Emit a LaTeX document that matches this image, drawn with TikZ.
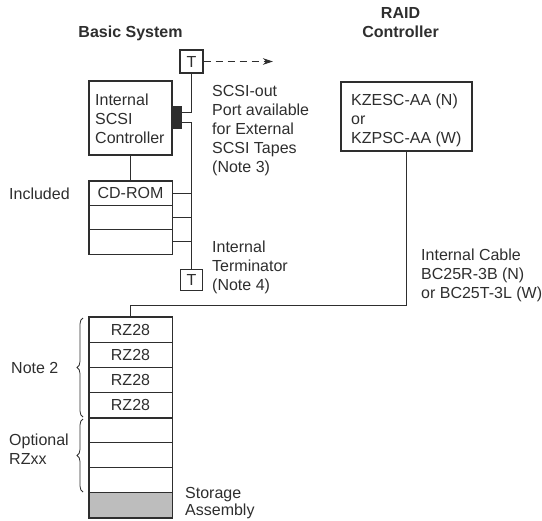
\documentclass[tikz,border=0pt]{standalone}
\usepackage{fontspec}
\setmainfont{Liberation Sans}
\usetikzlibrary{arrows.meta,decorations.pathreplacing,fit}
\definecolor{ink}{HTML}{2E2E2E}
\definecolor{shade}{HTML}{BDBDBD}
\begin{document}
\begin{tikzpicture}[x=1bp,y=-1bp,
  every node/.style={font=\fontsize{16bp}{19bp}\selectfont, text=ink},
  wire/.style={draw=ink, line width=0.9bp},
  boxframe/.style={draw=ink, line width=1.4bp, inner sep=0pt},
  tbox/.style={draw=ink, line width=1.3bp, minimum width=22bp, minimum height=21bp, inner sep=0pt},
  slot/.style={draw=ink, line width=0.9bp, minimum width=83bp, minimum height=25bp, inner sep=0pt},
  txt/.style={align=left, anchor=north west, inner sep=0pt},
  ttl/.style={font=\bfseries\fontsize{16bp}{19bp}\selectfont, align=center, inner sep=0pt},
  bracket/.style={draw=ink, line width=0.8bp, decorate, decoration={brace, amplitude=6bp}}
]
\useasboundingbox (0,0) rectangle (542,521);

% titles
\node[ttl] (sysTitle) at (130.5,33) {Basic System};
\node[ttl, anchor=north] (raidTitle) at (400.5,7) {RAID\\Controller};

% terminators
\node[tbox, minimum width=23bp, minimum height=23bp] (tTop) at (191.5,61.5) {T};
\node[tbox] (tBot) at (191.5,280) {T};
\coordinate (extEnd) at (273,61.5);
\draw[wire, dash pattern=on 7bp off 5bp, -{Stealth[length=10bp,width=6.5bp]}] (tTop.east) -- (extEnd);

% internal SCSI controller
\node[boxframe, minimum width=83bp, minimum height=74bp] (ctrl) at (130.5,118) {};
\node[txt] (ctrlTxt) at (95,94) {Internal\\SCSI\\Controller};
\node[fill=ink, minimum width=10bp, minimum height=23bp, inner sep=0pt] (conn) at (177,117.5) {};

% CD-ROM stack
\node[slot, minimum height=24.33bp] (cd1) at (130.5,193.17) {CD-ROM};
\node[slot, minimum height=24.33bp] (cd2) at (130.5,217.5) {};
\node[slot, minimum height=24.33bp] (cd3) at (130.5,241.83) {};
\node[boxframe, fit=(cd1)(cd3)] (cdFrame) {};
\draw[wire] (ctrl.south) -- (cdFrame.north);

% SCSI bus
\coordinate (portA) at (182,112);
\coordinate (portB) at (182,122);
\draw[wire] (tTop.south) |- (portA);
\draw[wire] (portB) -| (tBot.north);
\draw[wire] (cd1.east) -- (cd1.east -| tBot.north);
\draw[wire] (cd2.east) -- (cd2.east -| tBot.north);
\draw[wire] (cd3.east) -- (cd3.east -| tBot.north);

% RAID controller
\node[boxframe, minimum width=131bp, minimum height=69bp] (raid) at (406.5,116.5) {};
\node[txt] (raidTxt) at (351,94) {KZESC-AA (N)\\or\\KZPSC-AA (W)};

% storage assembly
\node[slot] (rz1) at (130.5,330) {RZ28};
\node[slot] (rz2) at (130.5,355) {RZ28};
\node[slot] (rz3) at (130.5,380) {RZ28};
\node[slot] (rz4) at (130.5,405) {RZ28};
\node[slot] (op1) at (130.5,430) {};
\node[slot] (op2) at (130.5,455) {};
\node[slot] (op3) at (130.5,480) {};
\node[slot, fill=shade] (sa) at (130.5,505) {};
\node[boxframe, fit=(rz1)(sa)] (stFrame) {};
\draw[draw=ink, line width=2.6bp] (rz4.south west) -- (rz4.south east);

% internal cable
\coordinate (cableBend) at (130.5,305);
\draw[wire] (raid.south) |- (cableBend) -- (stFrame.north);

% braces
\coordinate (n2a) at (83,417);
\coordinate (n2b) at (83,318);
\coordinate (opa) at (83,492);
\coordinate (opb) at (83,419);
\draw[bracket] (n2a) -- (n2b);
\draw[bracket] (opa) -- (opb);

% labels
\node[anchor=west, inner sep=0pt] (incl) at (9,194) {Included};
\node[txt] (scsiOut) at (212,85.5) {SCSI-out\\Port available\\for External\\SCSI Tapes\\(Note 3)};
\node[txt] (term) at (212,241) {Internal\\Terminator\\(Note 4)};
\node[txt] (cable) at (421,249) {Internal Cable\\BC25R-3B (N)\\or BC25T-3L (W)};
\node[anchor=west, inner sep=0pt] (note2) at (11,368) {Note 2};
\node[txt] (opt) at (9,434) {Optional\\RZxx};
\node[txt, font=\fontsize{16bp}{17bp}\selectfont] (stor) at (185,487) {Storage\\Assembly};
\end{tikzpicture}
\end{document}
